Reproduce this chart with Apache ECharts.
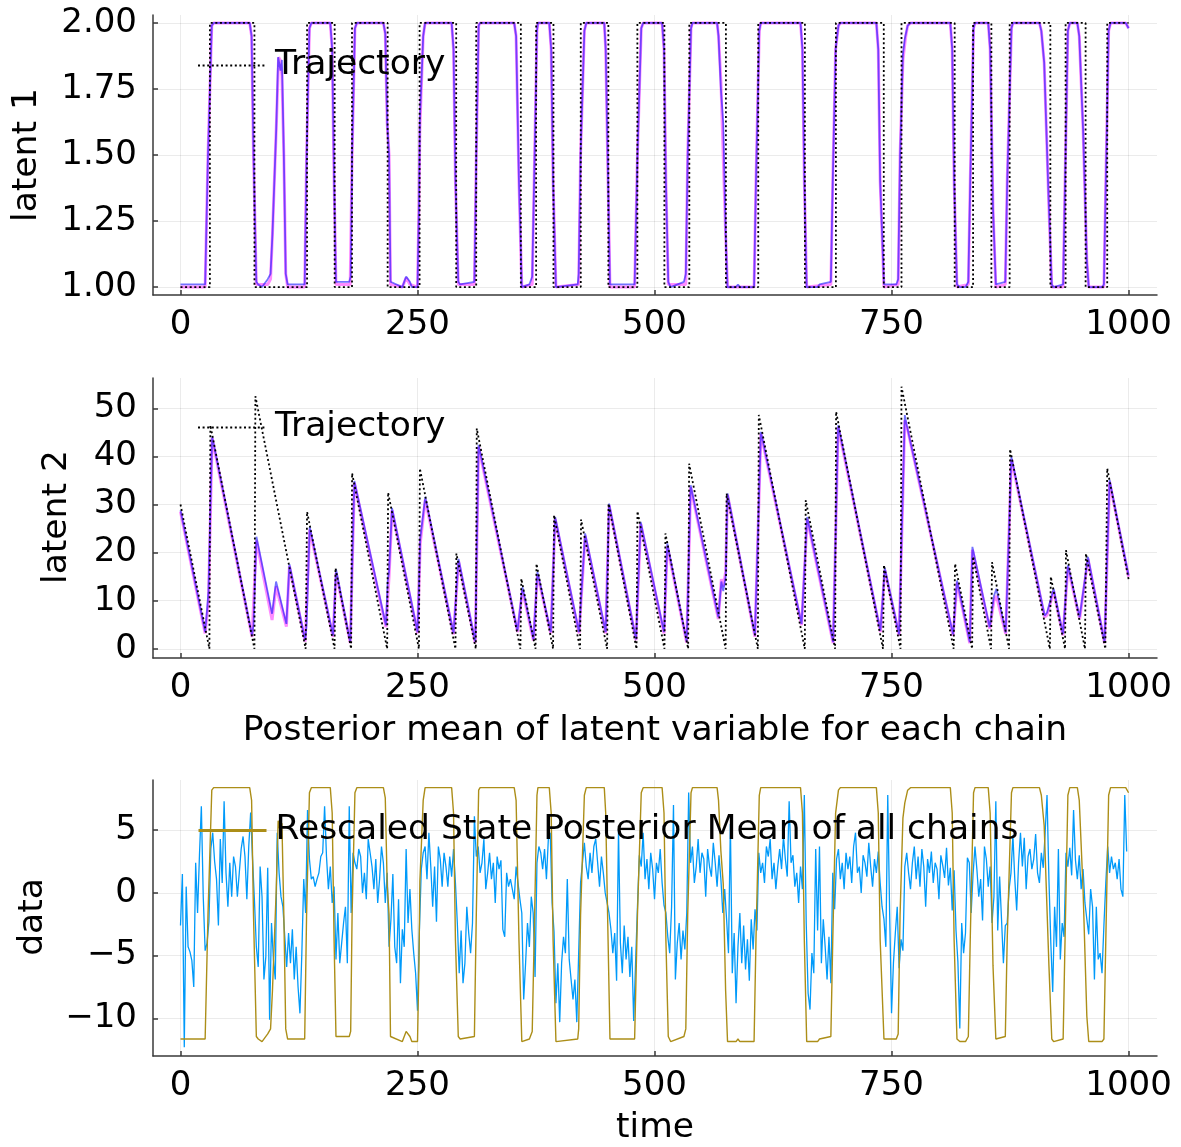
<!DOCTYPE html>
<html><head><meta charset="utf-8">
<script src="https://cdn.jsdelivr.net/npm/echarts@6/dist/echarts.min.js"></script>
<style>html,body{margin:0;padding:0;background:#fff}#c{width:1181px;height:1147px}</style>
</head><body><div id="c"></div>
<script>
// ---------- tick labels ----------
const xTicks = [0, 250, 500, 750, 1000];
const y1Ticks = [1, 1.25, 1.5, 1.75, 2];
const y2Ticks = [0, 10, 20, 30, 40, 50];
const y3Ticks = [-10, -5, 0, 5];

// ---------- latent 1: true trajectory switch times (state starts at 1) ----------
const trajStartState = 1;
const trajSwitchTimes = [31, 78, 133.5, 162.6, 180.9, 218.5, 252.2, 290.8, 311.9, 359, 375.1, 393.4, 422.2, 451.3, 481.9, 510.4, 536.7, 575.3, 609.4, 658.6, 691.3, 741.8, 760.5, 816.6, 836, 855.3, 874.6, 917.5, 933.6, 954.7, 977.5];

// ---------- latent 1: posterior mean per chain (time, value) ----------
const latent1ChainA = [[0,1.01],[26,1.01],[29,1.5],[33,1.99],[35,2],[73,2],[75,1.95],[77,1.5],[80,1.02],[82,1.01],[86,1.0],[92,1.03],[95,1.05],[97,1.2],[101,1.6],[103,1.87],[104.5,1.84],[105.5,1.82],[107,1.86],[109,1.5],[111,1.05],[113,1.01],[131,1.01],[133,1.5],[136,1.98],[138,2],[158,2],[160,1.9],[162,1.4],[164,1.02],[178,1.02],[179.5,1.04],[181,1.5],[184,1.98],[186,2],[214,2],[216,1.96],[218,1.62],[220,1.5],[221.5,1.02],[234,1.0],[238,1.04],[239,1.045],[242,1.02],[244,1.0],[250,1.0],[251.5,1.3],[252.5,1.63],[256,1.95],[258,2],[286,2],[288,1.9],[290,1.4],[293,1.02],[295,1.01],[310,1.02],[312,1.5],[314.5,1.99],[316,2],[352,2],[354,1.95],[357,1.4],[360,1.0],[368,1.01],[371,1.04],[373,1.4],[376,1.97],[377,2],[389,2],[391,1.9],[393,1.4],[396,1.0],[419,1.01],[420,1.05],[422,1.5],[426,1.97],[428,2],[447,2],[448.5,1.9],[451,1.4],[453,1.01],[479,1.01],[482,1.5],[486,1.98],[488,2],[508,2],[510,1.9],[512,1.4],[514.5,1.02],[517,1.0],[531,1.02],[533,1.05],[535,1.5],[538.5,1.98],[540,2],[566,2],[567.5,1.95],[570,1.75],[572.5,1.62],[575,1.2],[577,1.0],[586,1.0],[588,1.01],[590,1.0],[605,1.0],[607,1.4],[610.5,1.97],[612,2],[654,2],[656,1.9],[658,1.4],[660.5,1.0],[672,1.0],[674,1.01],[686,1.02],[688,1.4],[691,1.9],[694,1.99],[696,2],[734,2],[736,1.9],[738,1.4],[742,1.01],[755,1.01],[757,1.03],[759,1.5],[762,1.88],[764,1.94],[767,1.99],[770,2],[812,2],[814,1.9],[816,1.4],[819,1.01],[822,1.0],[828,1.0],[831,1.02],[833,1.4],[836.5,1.98],[838,2],[852,2],[854,1.9],[857,1.3],[860,1.01],[870,1.02],[872,1.4],[876.5,1.98],[878,2],[906,2],[908,1.97],[911,1.85],[916,1.3],[919,1.01],[921,1.0],[931,1.01],[933,1.4],[936,1.97],[938,2],[946,2],[948,1.95],[952,1.6],[956,1.1],[958,1.0],[972,1.0],[974,1.01],[976,1.4],[979,1.97],[981,2],[997,2],[1000,1.98]];
const latent1ChainB = [[0,1.0],[26,1.0],[29,1.5],[33,1.99],[35,2],[73,2],[75,1.95],[77,1.5],[80,1.01],[92,1.01],[95,1.03],[97,1.2],[101,1.6],[103.5,1.87],[105,1.86],[107,1.8],[109,1.5],[111,1.05],[113,1.0],[131,1.0],[133,1.5],[136,1.98],[138,2],[158,2],[160,1.9],[162,1.4],[164,1.01],[179,1.01],[181,1.5],[184,1.98],[186,2],[214,2],[216,1.96],[218,1.62],[220,1.5],[221.5,1.01],[234,1.0],[238,1.035],[242,1.01],[250,1.0],[251.5,1.3],[252.5,1.6],[256,1.95],[258,2],[286,2],[288,1.9],[290,1.4],[293,1.01],[310,1.01],[312,1.5],[314.5,1.99],[316,2],[352,2],[354,1.95],[357,1.4],[360,1.0],[371,1.01],[373,1.4],[376,1.97],[377,2],[389,2],[391,1.9],[393,1.4],[396,1.0],[420,1.01],[422,1.5],[426,1.97],[428,2],[447,2],[448.5,1.9],[451,1.4],[453,1.0],[479,1.0],[482,1.5],[486,1.98],[488,2],[508,2],[510,1.9],[512,1.4],[514.5,1.01],[533,1.01],[535,1.5],[538.5,1.98],[540,2],[566,2],[567.5,1.95],[570,1.78],[575,1.2],[577,1.0],[605,1.0],[607,1.4],[610.5,1.97],[612,2],[654,2],[656,1.9],[658,1.4],[660.5,1.0],[686,1.01],[688,1.4],[691,1.9],[694,1.99],[696,2],[734,2],[736,1.9],[738,1.4],[742,1.0],[757,1.01],[759,1.5],[762,1.86],[765,1.95],[767,1.99],[770,2],[812,2],[814,1.9],[816,1.4],[819,1.0],[831,1.01],[833,1.4],[836.5,1.98],[838,2],[852,2],[854,1.9],[857,1.3],[860,1.0],[870,1.01],[872,1.4],[876.5,1.98],[878,2],[906,2],[908,1.97],[911,1.85],[916,1.3],[919,1.0],[931,1.0],[933,1.4],[936,1.97],[938,2],[946,2],[948,1.95],[952,1.6],[956,1.1],[958,1.0],[974,1.0],[976,1.4],[979,1.97],[981,2],[997,2],[1000,1.98]];

// ---------- latent 2: trajectory (time, value) ----------
const latent2Traj = [[0,30],[30.5,0],[31.5,46.5],[78,0],[79,52.5],[132,0],[133.5,28.5],[162.5,0],[163.5,16.8],[180,0],[181,36.5],[218,0],[219,32.5],[251.5,0],[252.5,37.5],[290,0],[291,19.8],[311.5,0],[312.5,45.8],[358.5,0],[359.5,14.6],[374.5,0],[375.5,17.7],[393,0],[394,27.8],[421.5,0],[422.5,26.9],[450,0],[451.5,30.2],[481,0],[482,28.6],[510.5,0],[511.5,24],[535.5,0],[536.5,38.5],[575,0],[576,32.3],[609,0],[610,48.6],[658.5,0],[659.5,30.9],[690.5,0],[691.5,49.3],[741,0],[742,17.4],[759.5,0],[760.5,54.5],[815.5,0],[817,17.7],[835,0],[836,19.2],[855,0],[856,18.0],[874,0],[875,41.5],[917,0],[918,15],[933,0],[934,20.5],[954,0],[955,19.8],[975.5,0],[977.5,37.5],[1000,14.5]];

// ---------- latent 2: posterior mean per chain ----------
const latent2ChainA = [[0,28.8],[26,3.5],[28,8],[29.5,12],[33.4,44.1],[75.5,2.8],[77,5],[80.1,23.3],[96.6,7.3],[100.8,14.0],[111.7,5.2],[114.9,17.6],[131.5,1.8],[133,5],[136.3,25.3],[160.9,2.8],[164.1,16.5],[179.1,1.4],[183.4,34.9],[216.7,4.9],[218.5,14],[220,16],[223.1,29.3],[250.1,3.5],[252.9,22.9],[258.2,31.6],[288,3.3],[293.3,18.7],[310.9,1.5],[314.4,42.4],[355.5,3.8],[360.7,12.8],[372.3,2.0],[376.5,16.0],[390.6,3.5],[395.2,27.4],[420.4,3.5],[426.8,24.0],[448.5,3.5],[452.1,30.2],[480.5,2.0],[485.4,26.4],[510,3.5],[513.5,21.9],[533.9,1.5],[538.1,34.0],[567.3,6.6],[570.5,14],[572.5,12],[575,15],[577,32.3],[605.9,2.8],[612.2,45.1],[655.1,5.2],[661,27.4],[688.4,1.4],[693.7,46.5],[738.3,3.8],[742.9,16.8],[758,3.0],[764,48.6],[766,46.5],[814.9,3.0],[819.1,14.2],[832.5,1.4],[835.3,21.2],[853.5,4.5],[856,8],[858,11],[860.6,12.5],[870.4,3.4],[876.4,39.9],[911.5,6.9],[914,7.5],[921,12.5],[930.8,3.1],[936.1,17.4],[948.4,6.6],[950,6.8],[957.2,19.1],[974.7,1.4],[980,35.1],[1000,15.3]];
const latent2ChainB = [[0,28.5],[26,3.2],[29.5,10],[33.4,43.8],[75.5,2.5],[80.1,22.5],[96.6,6.0],[100.8,13.0],[111.7,4.6],[114.9,17.2],[131.5,1.5],[136.3,24.8],[160.9,2.5],[164.1,15.8],[179.1,1.2],[183.4,34.5],[216.7,4.5],[220,15],[223.1,28.8],[250.1,3.2],[252.9,22],[258.2,31.0],[288,3.0],[293.3,18.2],[310.9,1.2],[314.4,42.0],[355.5,3.5],[360.7,12.2],[372.3,1.7],[376.5,15.5],[390.6,3.2],[395.2,27.0],[420.4,3.2],[426.8,23.5],[448.5,3.2],[452.1,29.8],[480.5,1.8],[485.4,26.0],[510,3.2],[513.5,21.4],[533.9,1.3],[538.1,33.6],[567.3,6.2],[570.5,14.5],[572.5,13],[575,16],[577,32],[605.9,2.5],[612.2,44.7],[655.1,4.9],[661,27],[688.4,1.2],[693.7,46.1],[738.3,3.5],[742.9,16.4],[758,2.7],[764,47.5],[767,45.5],[814.9,2.7],[819.1,13.8],[832.5,1.2],[835.3,20.6],[853.5,4.2],[858,10],[860.6,11.0],[870.4,3.1],[876.4,39.4],[911.5,6.6],[914,7.0],[921,12],[930.8,2.8],[936.1,17.0],[948.4,6.2],[957.2,18.7],[974.7,1.2],[980,34.7],[1000,15.0]];

// ---------- data: observed series, one value every 2 time steps ----------
const dataStep = 2;
const dataValues = [
-2.6,1.5,-12.3,0.5,-4.3,-4.7,-5.4,-7.5,2.4,-1.6,3.0,6.9,-0.3,-4.6,-4.0,-2.3,
3.5,4.8,2.5,1.1,-2.6,4.3,0.8,7.3,1.6,-1.1,2.4,-0.3,2.9,2.1,-0.3,1.6,3.5,4.5,2.9,-0.5,3.7,6.4,2.7,
-0.6,-4.3,-5.9,2.1,-0.3,-6.9,-5.1,2.0,-10.1,-2.4,-5.3,-6.9,4.8,1.6,-0.3,-1.1,-3.5,-5.9,-3.2,-5.6,-2.9,-6.9,-4.3,-7.5,-9.6,-4.8,1.1,-1.6,
6.6,2.7,1.1,1.3,0.5,1.1,1.6,2.9,3.2,6.9,2.9,0.3,2.1,-0.8,0.5,
-5.3,-1.6,-5.6,-4.0,-2.4,-1.1,-5.6,6.9,-1.6,
3.2,2.4,1.9,3.5,2.9,0.0,1.6,-0.5,4.3,3.2,2.1,0.3,2.7,-0.8,1.1,3.7,2.4,-0.8,1.6,
-4.3,-2.1,1.5,-4.3,-5.6,-0.5,-7.2,-2.9,-4.3,3.5,-2.4,0.3,-2.9,-4.8,-6.4,-9.4,-3.0,
1.9,3.2,3.7,1.1,4.8,2.1,-1.1,2.1,-2.3,3.7,2.7,0.5,3.2,2.1,0.5,2.9,1.3,3.5,0.8,
-2.4,-6.4,-3.0,-7.2,-5.6,-1.1,-3.2,-4.8,-2.4,6.1,2.9,
3.7,1.6,2.4,4.3,0.3,1.6,3.2,1.1,2.4,-0.8,2.9,1.9,2.6,-2.9,-3.5,1.6,0.5,1.1,0.3,-0.5,2.1,0.8,-0.5,
-1.6,-8.5,-5.6,-2.4,-4.3,-0.3,-1.6,-6.7,
2.4,3.7,3.2,1.9,3.5,1.1,4.3,4.8,-0.8,
-3.1,-8.8,-5.6,-10.3,-5.6,-3.5,-4.8,1.1,-5.3,-6.9,-8.5,-6.9,-10.3,-4.8,0.8,
2.4,4.0,2.1,1.1,3.2,1.6,3.7,4.3,2.4,0.5,2.9,1.6,0.0,-0.8,
-1.6,-2.9,-4.8,-3.2,-7.0,5.0,-4.0,-6.4,-2.6,-5.3,-3.5,-6.7,-4.3,-10.2,-5.6,-1.1,
3.0,2.1,4.8,1.1,2.7,0.3,3.2,1.9,-0.5,2.4,1.6,3.5,0.8,-1.0,
-1.6,-3.5,-4.8,-1.1,7.0,-6.9,-4.0,-2.4,-5.3,-3.0,-4.5,-1.6,8.0,
2.4,3.7,0.8,2.1,4.3,1.6,3.2,2.7,-0.3,3.5,2.1,1.3,4.0,2.4,0.5,3.0,1.1,-1.6,0.3,
-2.1,-4.8,5.5,-6.4,-3.2,-8.8,-4.3,-1.6,-5.6,-2.6,-6.1,-3.7,-7.0,-2.1,-4.5,-1.3,-3.0,
3.2,1.6,2.4,0.8,3.7,2.9,4.3,1.1,2.4,0.3,2.1,3.5,1.9,4.5,2.7,1.3,7.3,2.4,3.0,0.5,1.6,-0.8,2.1,0.3,7.8,
-2.4,-8.0,-9.3,-4.8,-6.4,3.5,-3.0,3.7,-5.6,-2.1,-4.3,-6.9,-3.5,-7.2,1.6,-1.3,
2.7,3.5,1.1,2.4,0.3,3.2,1.9,2.9,0.8,3.7,4.8,1.6,2.1,0.0,3.0,2.4,1.3,4.0,2.1,0.5,2.7,1.6,3.3,0.8,-1.1,
-2.1,-4.3,7.8,-1.6,-9.6,-5.6,-3.2,-1.1,-6.0,-3.7,
-4.6,2.1,3.2,1.6,0.3,2.4,3.7,1.1,2.9,0.5,3.5,2.1,-1.1,2.7,1.6,3.3,0.8,2.4,1.9,-0.5,3.0,2.2,1.2,3.6,0.6,2.0,-1.4,1.8,
-3.0,-5.5,-10.8,-2.4,-4.8,-3.2,2.8,2.4,-1.6,1.5,
3.7,1.9,-0.3,1.1,-2.2,3.7,2.7,0.5,2.1,
-2.4,-0.3,7.3,-3.0,1.3,-2.1,-5.6,-2.6,-2.4,0.3,
1.6,4.6,1.1,-1.4,2.4,4.8,2.1,4.4,0.3,2.9,3.5,1.9,2.7,4.7,1.6,0.8,3.2,2.0,4.8,7.8,1.1,
-4.0,-7.9,-1.1,-4.3,3.5,-5.3,-2.4,-3.5,
3.2,2.1,3.6,1.4,6.6,2.6,1.1,3.0,0.3,1.9,-0.8,
-2.1,-3.3,0.3,-1.1,-6.9,-1.1,-5.3,-4.8,-6.4,-2.6,0.8,
3.7,1.6,2.9,1.9,2.4,1.1,2.7,0.3,-0.3,7.8,3.3
];

// rescaling of the latent-1 posterior mean onto the data axis (state 1 -> low, state 2 -> high)
const rescaleLow = -11.85;
const rescaleHigh = 8.39;

// ---------- build ----------
const FONT = 'DejaVu Sans';
const TICK_FS = 34;
const LABEL_FS = 34.5;
const trajLatent1 = (() => {
  const pts = [[0, trajStartState]];
  let s = trajStartState;
  trajSwitchTimes.forEach(t => { const n = s === 1 ? 2 : 1; pts.push([t, s]); pts.push([t, n]); s = n; });
  pts.push([1000, s]);
  return pts;
})();
const olive = latent1ChainA.map(([t, v]) => [t, rescaleLow + (v - 1) * (rescaleHigh - rescaleLow)]);
const dataSeries = dataValues.map((v, i) => [i * dataStep, v]);

const gridLine = { show: true, lineStyle: { color: 'rgba(0,0,0,0.08)', width: 1 } };
const axisLineStyle = { color: '#3a3a3a', width: 1.5 };
function mkX(gi) {
  return {
    type: 'value', gridIndex: gi, min: -29, max: 1030,
    axisLine: { show: true, onZero: false, lineStyle: axisLineStyle },
    axisTick: { show: true, inside: true, length: 5, customValues: xTicks, lineStyle: axisLineStyle },
    axisLabel: { customValues: xTicks, fontSize: TICK_FS, color: '#000', margin: 13, fontFamily: FONT, formatter: v => String(v) },
    splitLine: gridLine
  };
}
function mkY(gi, min, max, ticks, fmt) {
  return {
    type: 'value', gridIndex: gi, min: min, max: max,
    axisLine: { show: true, onZero: false, lineStyle: axisLineStyle },
    axisTick: { show: true, inside: true, length: 5, customValues: ticks, lineStyle: axisLineStyle },
    axisLabel: { customValues: ticks, fontSize: TICK_FS, color: '#000', margin: 16, fontFamily: FONT, formatter: fmt },
    splitLine: gridLine
  };
}
const chart = echarts.init(document.getElementById('c'), null, { renderer: 'canvas' });
const dotted = { color: '#000', width: 1.8, type: [2, 2.6] };
const legendText = { fontSize: LABEL_FS, color: '#000', fontFamily: FONT, padding: [6, 0, 0, 4] };
const legendBase = { padding: 0, itemWidth: 68, itemHeight: 20, textStyle: legendText, itemStyle: { opacity: 0 } };
chart.setOption({
  animation: false,
  backgroundColor: '#fff',
  grid: [
    { left: 153, right: 24, top: 15, height: 280 },
    { left: 153, right: 24, top: 378, height: 280 },
    { left: 153, right: 24, top: 780, height: 276 }
  ],
  xAxis: [mkX(0), mkX(1), mkX(2)],
  yAxis: [
    mkY(0, 0.97, 2.03, y1Ticks, v => v.toFixed(2)),
    mkY(1, -1.9, 56.3, y2Ticks, v => String(v)),
    mkY(2, -13, 9, y3Ticks, v => (v < 0 ? '\u2212' + Math.abs(v) : String(v)))
  ],
  legend: [
    Object.assign({ left: 197, top: 48, data: ['Trajectory'], lineStyle: { width: 2 } }, legendBase),
    Object.assign({ left: 197, top: 410, data: ['Trajectory'], lineStyle: { width: 2 } }, legendBase),
    Object.assign({ left: 197, top: 813, data: ['Rescaled State Posterior Mean of all chains'], lineStyle: { width: 3 } }, legendBase)
  ],
  series: [
    { name: 'chain 2 (latent 1)', type: 'line', xAxisIndex: 0, yAxisIndex: 0, data: latent1ChainB, showSymbol: false, symbol: 'none', lineStyle: { color: '#ff00ff', width: 3, opacity: 0.45 }, z: 2 },
    { name: 'chain 1 (latent 1)', type: 'line', xAxisIndex: 0, yAxisIndex: 0, data: latent1ChainA, showSymbol: false, symbol: 'none', lineStyle: { color: '#0000ff', width: 1.8, opacity: 0.55 }, z: 3 },
    { name: 'Trajectory', type: 'line', xAxisIndex: 0, yAxisIndex: 0, data: trajLatent1, showSymbol: false, symbol: 'none', lineStyle: dotted, itemStyle: { color: '#000' }, z: 4 },
    { name: 'chain 2 (latent 2)', type: 'line', xAxisIndex: 1, yAxisIndex: 1, data: latent2ChainB, showSymbol: false, symbol: 'none', lineStyle: { color: '#ff00ff', width: 3, opacity: 0.45 }, z: 2 },
    { name: 'chain 1 (latent 2)', type: 'line', xAxisIndex: 1, yAxisIndex: 1, data: latent2ChainA, showSymbol: false, symbol: 'none', lineStyle: { color: '#0000ff', width: 1.8, opacity: 0.55 }, z: 3 },
    { name: 'Trajectory', type: 'line', xAxisIndex: 1, yAxisIndex: 1, data: latent2Traj, showSymbol: false, symbol: 'none', lineStyle: dotted, itemStyle: { color: '#000' }, z: 4 },
    { name: 'data', type: 'line', xAxisIndex: 2, yAxisIndex: 2, data: dataSeries, showSymbol: false, symbol: 'none', lineStyle: { color: '#009AFA', width: 1.3 }, z: 2 },
    { name: 'Rescaled State Posterior Mean of all chains', type: 'line', xAxisIndex: 2, yAxisIndex: 2, data: olive, showSymbol: false, symbol: 'none', lineStyle: { color: '#AC8E18', width: 1.4 }, itemStyle: { color: '#AC8E18' }, z: 3 }
  ],
  graphic: [
    { type: 'text', x: 27, y: 155, rotation: Math.PI / 2, style: { text: 'latent 1', font: LABEL_FS + 'px "DejaVu Sans"', fill: '#000', textAlign: 'center', textVerticalAlign: 'middle' } },
    { type: 'text', x: 57, y: 517, rotation: Math.PI / 2, style: { text: 'latent 2', font: LABEL_FS + 'px "DejaVu Sans"', fill: '#000', textAlign: 'center', textVerticalAlign: 'middle' } },
    { type: 'text', x: 33, y: 917, rotation: Math.PI / 2, style: { text: 'data', font: LABEL_FS + 'px "DejaVu Sans"', fill: '#000', textAlign: 'center', textVerticalAlign: 'middle' } },
    { type: 'text', x: 655, y: 731, style: { text: 'Posterior mean of latent variable for each chain', font: LABEL_FS + 'px "DejaVu Sans"', fill: '#000', textAlign: 'center', textVerticalAlign: 'middle' } },
    { type: 'text', x: 655, y: 1128, style: { text: 'time', font: LABEL_FS + 'px "DejaVu Sans"', fill: '#000', textAlign: 'center', textVerticalAlign: 'middle' } }
  ]
});
</script>
</body></html>
